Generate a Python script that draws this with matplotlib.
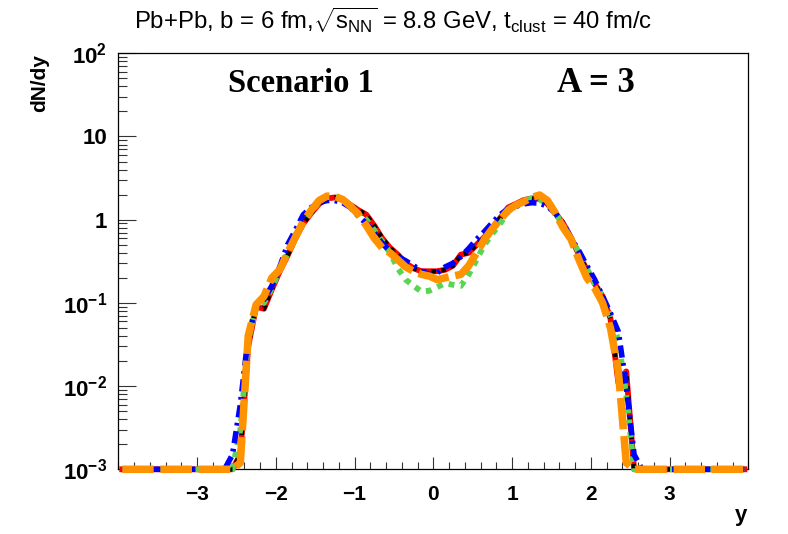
import numpy as np
import matplotlib
matplotlib.use("Agg")
import matplotlib.pyplot as plt
from matplotlib.ticker import FixedLocator, FixedFormatter, MultipleLocator, LogLocator, NullFormatter

plt.rcParams['font.family'] = ['Liberation Sans', 'DejaVu Sans']
plt.rcParams['mathtext.fontset'] = 'custom'
plt.rcParams['mathtext.rm'] = 'Liberation Sans'
plt.rcParams['mathtext.it'] = 'Liberation Sans:italic'
plt.rcParams['mathtext.bf'] = 'Liberation Sans:bold'
plt.rcParams['mathtext.default'] = 'regular'

# bin centres, 0.1 wide bins on [-4, 4]; only -2.55 ... 2.55 are non-empty
rapidity = np.round(np.arange(-3.95, 3.96, 0.1), 2)
n_empty_side = 14

red_vals = [0, 0.0015, 0.03, 0.09, 0.085, 0.145, 0.24, 0.37, 0.6, 0.9, 1.2, 1.55, 1.8, 1.85,
            1.75, 1.5, 1.3, 1.15, 0.85, 0.6, 0.46, 0.38, 0.3, 0.26, 0.24, 0.24, 0.24, 0.25,
            0.28, 0.38, 0.4, 0.5, 0.62, 0.8, 1.05, 1.4, 1.55, 1.72, 1.8, 1.78, 1.55, 1.2,
            0.9, 0.6, 0.38, 0.25, 0.17, 0.12, 0.065, 0.011, 0.015, 0]
black_vals = [0, 0.0015, 0.03, 0.09, 0.085, 0.145, 0.24, 0.37, 0.6, 0.9, 1.2, 1.55, 1.8, 1.85,
              1.75, 1.5, 1.3, 1.15, 0.85, 0.6, 0.46, 0.38, 0.3, 0.26, 0.24, 0.24, 0.24, 0.25,
              0.28, 0.38, 0.4, 0.5, 0.62, 0.8, 1.05, 1.4, 1.55, 1.72, 1.8, 1.78, 1.55, 1.2,
              0.9, 0.6, 0.38, 0.25, 0.17, 0.12, 0.065, 0.011, 0.015, 0]
blue_vals = [0.0015, 0.006, 0.04, 0.09, 0.11, 0.16, 0.27, 0.5, 0.75, 1.15, 1.4, 1.6, 1.7, 1.7,
             1.6, 1.4, 1.1, 0.9, 0.7, 0.52, 0.42, 0.36, 0.32, 0.28, 0.24, 0.22, 0.23, 0.27,
             0.3, 0.36, 0.45, 0.58, 0.72, 0.92, 1.15, 1.35, 1.45, 1.55, 1.6, 1.58, 1.45, 1.2,
             0.9, 0.6, 0.42, 0.28, 0.19, 0.12, 0.075, 0.045, 0.01, 0.0015]
green_vals = [0, 0.003, 0.035, 0.09, 0.1, 0.15, 0.25, 0.4, 0.65, 0.95, 1.25, 1.6, 1.8, 1.9,
              1.75, 1.45, 1.2, 1.0, 0.75, 0.55, 0.4, 0.26, 0.19, 0.16, 0.137, 0.14, 0.155, 0.172,
              0.165, 0.16, 0.22, 0.33, 0.5, 0.68, 0.9, 1.25, 1.5, 1.7, 1.8, 1.75, 1.55, 1.2,
              0.85, 0.6, 0.4, 0.26, 0.17, 0.12, 0.07, 0.035, 0.008, 0]
orange_vals = [0, 0.0012, 0.04, 0.095, 0.12, 0.2, 0.25, 0.4, 0.62, 0.95, 1.3, 1.7, 1.92, 1.9,
               1.75, 1.45, 1.15, 0.85, 0.6, 0.46, 0.4, 0.33, 0.27, 0.24, 0.22, 0.21, 0.19, 0.2,
               0.21, 0.22, 0.28, 0.4, 0.58, 0.78, 1.0, 1.3, 1.5, 1.65, 1.85, 1.98, 1.7, 1.2,
               0.8, 0.58, 0.33, 0.2, 0.15, 0.1, 0.05, 0.015, 0.0012, 0]

x_tick_vals = [-3, -2, -1, 0, 1, 2, 3]
y_tick_vals = [1e-3, 1e-2, 1e-1, 1, 10, 100]
y_tick_labels = [r'$\mathbf{10^{-3}}$', r'$\mathbf{10^{-2}}$', r'$\mathbf{10^{-1}}$',
                 '1', '10', r'$\mathbf{10^{2}}$']
title = r'Pb+Pb, b = 6 fm,$\sqrt{s_{NN}}$ = 8.8 GeV, t$_{clust}$ = 40 fm/c'
ymin, ymax = 1e-3, 1e2

def full(vals):
    return np.maximum(np.concatenate([np.zeros(n_empty_side), vals, np.zeros(n_empty_side)]), ymin)

fig = plt.figure(figsize=(7.88, 5.34), dpi=100)
ax = fig.add_axes([0.1501, 0.1212, 0.7995, 0.779])

ax.plot(rapidity, full(red_vals), color='#ff0000', lw=4.2, ls='-', clip_on=False, zorder=3)
ax.plot(rapidity, full(black_vals), color='black', lw=3.2, ls=(0, (1, 1.2)), clip_on=False, zorder=4)
ax.plot(rapidity, full(green_vals), color='#59d454', lw=4.2, ls=(0, (1, 1.1)), clip_on=False, zorder=5)
ax.plot(rapidity, full(blue_vals), color='#0000ff', lw=4.0, ls=(0, (2.2, 1.0, 0.5, 1.0)), clip_on=False, zorder=6)
ax.plot(rapidity, full(orange_vals), color='#ff9200', lw=5.4, ls=(0, (4.2, 0.9)), clip_on=False, zorder=7)

ax.set_xlim(-4, 4)
ax.set_yscale('log')
ax.set_ylim(ymin, ymax)

ax.xaxis.set_major_locator(FixedLocator(x_tick_vals))
ax.xaxis.set_minor_locator(MultipleLocator(0.2))
ax.yaxis.set_major_locator(FixedLocator(y_tick_vals))
ax.yaxis.set_major_formatter(FixedFormatter(y_tick_labels))
ax.yaxis.set_minor_locator(LogLocator(base=10, subs=np.arange(2, 10)))
ax.yaxis.set_minor_formatter(NullFormatter())

ax.tick_params(axis='both', which='both', direction='in', top=False, right=False, width=0.8, color='#333333')
ax.tick_params(axis='y', which='major', length=13, pad=8, labelsize=16)
ax.tick_params(axis='y', which='minor', length=6.5)
ax.tick_params(axis='x', which='major', length=9, pad=11, labelsize=15)
ax.tick_params(axis='x', which='minor', length=4.8)
for lab in ax.get_xticklabels() + ax.get_yticklabels():
    lab.set_fontweight('bold')
for s in ax.spines.values():
    s.set_linewidth(0.9)

fig.text(0.499, 0.962, title, ha='center', va='center', fontsize=17.2)
ax.text(0.174, 0.927, 'Scenario 1', transform=ax.transAxes, ha='left', va='center',
        fontsize=23.5, fontweight='bold', family='Liberation Serif')
ax.text(0.696, 0.927, 'A = 3', transform=ax.transAxes, ha='left', va='center',
        fontsize=25, fontweight='bold', family='Liberation Serif')
fig.text(40 / 788, 1 - 54 / 534, 'dN/dy', rotation=90, ha='center', va='top', fontsize=15, fontweight='bold')
fig.text(747 / 788, 1 - 505 / 534, 'y', ha='right', va='top', fontsize=16, fontweight='bold')

fig.savefig('out.png', dpi=100)
